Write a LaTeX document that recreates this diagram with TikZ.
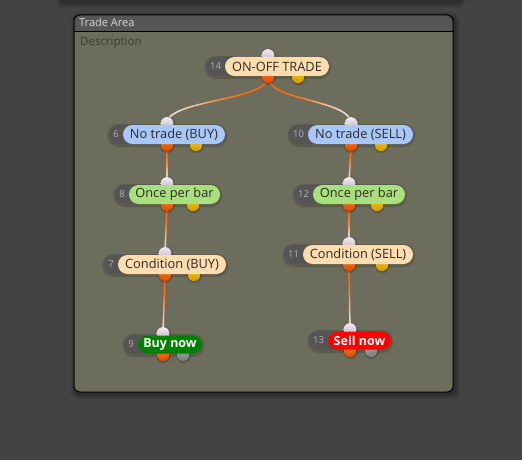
\documentclass[tikz,border=0pt]{standalone}
\usepackage{fontspec}
\setmainfont{Open Sans}
\usetikzlibrary{calc}
\definecolor{bgc}{HTML}{434343}
\definecolor{topbar}{HTML}{303030}
\definecolor{panelc}{HTML}{6D6D5D}
\definecolor{titlec}{HTML}{565656}
\definecolor{titletxt}{HTML}{D6D6D6}
\definecolor{desctxt}{HTML}{3A3A34}
\definecolor{peach}{HTML}{FFDCAD}
\definecolor{lblue}{HTML}{A8C6F8}
\definecolor{lgreen}{HTML}{AADF7E}
\definecolor{buyg}{HTML}{008000}
\definecolor{sellr}{HTML}{FF0000}
\definecolor{darkpill}{HTML}{555555}
\definecolor{numtxt}{HTML}{B0B0B0}
\definecolor{lbltxt}{HTML}{2B2B2B}
\definecolor{inportT}{HTML}{F2EAF4}
\definecolor{inportB}{HTML}{BFB0C4}
\definecolor{outportT}{HTML}{FF7A1A}
\definecolor{outportB}{HTML}{D84A00}
\definecolor{yelT}{HTML}{F5C800}
\definecolor{yelB}{HTML}{D09A00}
\definecolor{grayT}{HTML}{A4A4A4}
\definecolor{grayB}{HTML}{787878}
\definecolor{wireO}{HTML}{FF6A10}
\definecolor{wireP}{HTML}{F6DCD6}

\pgfdeclarelayer{back}
\pgfdeclarelayer{wires}
\pgfsetlayers{back,wires,main}

\tikzset{
  lbl/.style={rounded corners=9.5pt, inner sep=0pt, minimum height=19pt, text=lbltxt,
    font=\fontsize{12.8}{14}\selectfont},
  tradelbl/.style={lbl, fill=peach},
  notradelbl/.style={lbl, fill=lblue},
  oncelbl/.style={lbl, fill=lgreen},
  condlbl/.style={lbl, fill=peach},
  buylbl/.style={lbl, minimum height=18pt, fill=buyg, text=white, font=\bfseries\fontsize{12.5}{14}\selectfont},
  selllbl/.style={lbl, minimum height=18pt, fill=sellr, text=white, font=\bfseries\fontsize{12.5}{14}\selectfont},
  pill/.style={fill=darkpill, rounded corners=9.5pt},
  numlbl/.style={text=numtxt, font=\fontsize{9.5}{10}\selectfont, inner sep=0pt},
  inport/.style={top color=inportT, bottom color=inportB},
  outport/.style={top color=outportT, bottom color=outportB},
  yelport/.style={top color=yelT, bottom color=yelB},
  grayport/.style={top color=grayT, bottom color=grayB},
  secp/.style={yelport},
  halo/.style={fill=black, opacity=0.16},
  wire/.style={line width=1.5pt, line cap=round},
}

% #1 name #2 number #3 text #4 style #5 left #6 right #7 top #8 port x #9 second port x
\newcommand\fnode[9]{%
  \ifnum#2>9 \def\fnDl{19}\else\def\fnDl{14}\fi
  \pgfmathsetmacro\fnM{#7+9.5}%
  \pgfmathsetmacro\fnB{#7+19}%
  \pgfmathsetmacro\fnW{#6-#5}%
  \pgfmathsetmacro\fnL{#5-\fnDl}%
  \coordinate (#1in) at (#8,#7-1.5);
  \coordinate (#1out) at (#8,\fnB+1);
  \coordinate (#1sec) at (#9,\fnB+1);
  \fill[halo, rounded corners=11pt] (\fnL-1.5,#7-1) rectangle (#6+2,\fnB+3);
  \fill[halo] ($(#1in)+(0.5,0.5)$) circle (7.5);
  \fill[halo] ($(#1out)+(0.5,1)$) circle (7.2);
  \fill[halo] ($(#1sec)+(0.5,1)$) circle (7.2);
  \fill[inport] (#1in) circle (6.5);
  \fill[outport] (#1out) circle (6.2);
  \fill[secp] (#1sec) circle (6.2);
  \fill[pill] (\fnL,#7) rectangle (#5+12,\fnB);
  \node[numlbl] (#1num) at (#5-\fnDl/2,\fnM) {#2};
  \node[#4, minimum width=\fnW pt] (#1) at ({(#5+#6)/2},\fnM) {#3};
}

% #1 from node, #2 to node, #3 control offset
\newcommand\wire[3]{%
  \coordinate (wc1) at ($(#1out)+(0,#3)$);
  \coordinate (wc2) at ($(#2in)-(0,#3)$);
  \foreach \wi in {0,...,29}{%
    \pgfmathsetmacro\wTa{\wi/30}%
    \pgfmathsetmacro\wTb{(\wi+1)/30}%
    \pgfmathsetmacro\wS{min(1,max(0,((\wTa+\wTb)/2-0.3)/0.55))}%
    \pgfmathsetmacro\wMix{100*(1-\wS*\wS*(3-2*\wS))}%
    \draw[wire, draw=wireO!\wMix!wireP]
      ($ {(1-\wTa)^3}*(#1out) + {3*(1-\wTa)^2*\wTa}*(wc1) + {3*(1-\wTa)*\wTa^2}*(wc2) + {\wTa^3}*(#2in) $)
      -- ($ {(1-\wTb)^3}*(#1out) + {3*(1-\wTb)^2*\wTb}*(wc1) + {3*(1-\wTb)*\wTb^2}*(wc2) + {\wTb^3}*(#2in) $);
  }%
}

\begin{document}
\begin{tikzpicture}[x=1pt,y=-1pt]
\useasboundingbox (0,0) rectangle (522,460);

\begin{pgfonlayer}{back}
  \fill[bgc] (0,0) rectangle (522,460);
  % shadow of the panel above
  \foreach \r in {1,...,6}{
    \fill[black, opacity=0.06, rounded corners=6pt] (60-\r*0.5,-10) rectangle (462+\r*0.5,1+\r*1.2);
  }
  \fill[topbar, rounded corners=5pt] (61,-10) rectangle (461,1.5);
  % panel shadow
  \foreach \r in {1,...,5}{
    \fill[black, opacity=0.07, rounded corners=7pt] (74-\r+2,15-\r+2.5) rectangle (453+\r+1.5,392+\r+2);
  }
  \fill[panelc, rounded corners=6pt] (74,15) rectangle (453,392);
  \begin{scope}
    \clip[rounded corners=6pt] (74,15) rectangle (453,392);
    \fill[titlec] (74,15) rectangle (453,31);
  \end{scope}
  \draw[black, line width=0.9pt] (74,31) -- (453,31);
  \draw[black, line width=1pt, rounded corners=6pt] (74,15) rectangle (453,392);
  \node[anchor=base west, text=titletxt, font=\fontsize{11}{12}\selectfont, inner sep=0pt] (title) at (79,26.6) {Trade Area};
  \node[anchor=base west, text=desctxt, font=\fontsize{11.5}{13}\selectfont, inner sep=0pt] (desc) at (80,45.7) {Description};
\end{pgfonlayer}

\fnode{n14}{14}{ON-OFF TRADE}{tradelbl}{225}{329}{57}{268}{298}
\fnode{n6}{6}{No trade (BUY)}{notradelbl}{123}{225}{125}{167}{196}
\fnode{n10}{10}{No trade (SELL)}{notradelbl}{308}{413}{125}{351}{381}
\fnode{n8}{8}{Once per bar}{oncelbl}{129}{220}{185}{167}{193}
\fnode{n12}{12}{Once per bar}{oncelbl}{313}{405}{185}{349}{377}
\fnode{n7}{7}{Condition (BUY)}{condlbl}{118}{226}{255}{165}{194}
\fnode{n11}{11}{Condition (SELL)}{condlbl}{303}{413}{245}{349}{382}
\tikzset{secp/.style={grayport}}
\fnode{n9}{9}{Buy now}{buylbl}{138}{202}{335}{163}{183}
\fnode{n13}{13}{Sell now}{selllbl}{328}{391}{331}{350}{371}

\begin{pgfonlayer}{wires}
  \wire{n14}{n6}{24}
  \wire{n14}{n10}{24}
  \wire{n6}{n8}{0}
  \wire{n8}{n7}{0}
  \wire{n7}{n9}{0}
  \wire{n10}{n12}{0}
  \wire{n12}{n11}{0}
  \wire{n11}{n13}{0}
\end{pgfonlayer}
\end{tikzpicture}
\end{document}
